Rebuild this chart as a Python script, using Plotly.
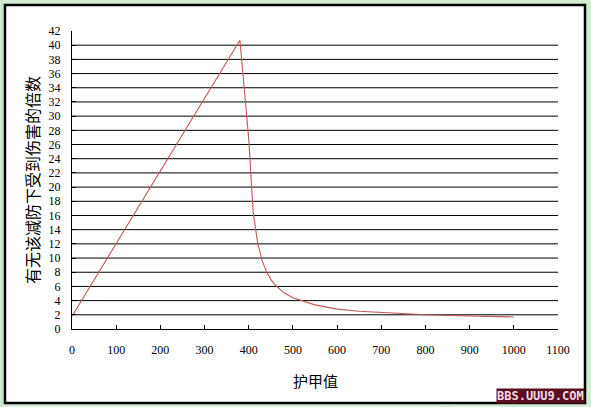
import plotly.graph_objects as go

# Data
armor = [0, 50, 100, 150, 200, 250, 300, 350, 380, 390, 400, 410, 420, 430, 440,
         450, 460, 480, 500, 550, 600, 650, 700, 750, 800, 850, 900, 950, 1000]
ratio = [1.8, 6.9, 12.0, 17.2, 22.3, 27.4, 32.5, 37.6, 40.7, 33.8, 26.8, 16.5, 12.2, 9.7, 8.1,
         7.0, 6.2, 5.1, 4.4, 3.4, 2.8, 2.5, 2.3, 2.1, 2.0, 1.9, 1.8, 1.75, 1.7]

x_ticks = [0, 100, 200, 300, 400, 500, 600, 700, 800, 900, 1000, 1100]
y_ticks = list(range(0, 43, 2))
x_title = "护甲值"
y_title = "有无该减防下受到伤害的倍数"
watermark = "BBS.UUU9.COM"

W, H = 591, 407
L, R, T, B = 72, 33, 31, 78
pw, ph = W - L - R, H - T - B

def px(xp):
    return (xp - L) / pw

def py(yp):
    return (H - B - yp) / ph

fig = go.Figure()
fig.add_trace(go.Scatter(x=armor, y=ratio, mode="lines",
                         line=dict(color="#c05858", width=1.1),
                         hoverinfo="skip", showlegend=False))

shapes = [
    dict(type="rect", xref="paper", yref="paper",
         x0=px(5), x1=px(585), y0=py(403), y1=py(5),
         fillcolor="white", line=dict(color="black", width=2.5), layer="below"),
]
for v in y_ticks[1:-1]:
    shapes.append(dict(type="line", xref="paper", yref="y", x0=0, x1=1, y0=v, y1=v,
                       line=dict(color="black", width=1), layer="below"))
# faint excel cell lines outside the frame
for xl in [2, 448, 513]:
    shapes.append(dict(type="line", xref="paper", yref="paper", x0=px(xl), x1=px(xl),
                       y0=py(407), y1=py(404) if xl != 2 else py(0),
                       line=dict(color="#b8dcb8", width=1), layer="below"))

fig.update_layout(
    width=W, height=H,
    margin=dict(l=L, r=R, t=T, b=B),
    paper_bgcolor="#d3ecd3",
    plot_bgcolor="rgba(0,0,0,0)",
    shapes=shapes,
    xaxis=dict(range=[0, 1100], tickvals=x_ticks, ticktext=[str(v) for v in x_ticks],
               showgrid=False, zeroline=False, showline=True, linecolor="black", linewidth=1,
               ticks="inside", ticklen=4, tickcolor="black",
               tickfont=dict(family="Liberation Serif", size=12, color="black"),
               ticklabelstandoff=10, fixedrange=True),
    yaxis=dict(range=[0, 42], tickvals=y_ticks, ticktext=[str(v) for v in y_ticks],
               showgrid=False, zeroline=False, showline=True, linecolor="black", linewidth=1,
               ticks="inside", ticklen=4, tickcolor="black",
               tickfont=dict(family="Liberation Serif", size=12, color="black"),
               ticklabelstandoff=8, fixedrange=True),
    annotations=[
        dict(text=y_title, xref="paper", yref="paper", x=px(32), y=0.5,
             textangle=-90, showarrow=False, xanchor="center", yanchor="middle",
             font=dict(family="Noto Sans CJK SC", size=16, color="black")),
        dict(text=x_title, xref="paper", yref="paper", x=0.5, y=py(380),
             showarrow=False, xanchor="center", yanchor="middle",
             font=dict(family="Noto Sans CJK SC", size=15, color="black")),
        dict(text="<b>" + watermark + "</b>", xref="paper", yref="paper",
             x=px(585), y=py(396), showarrow=False, xanchor="right", yanchor="middle",
             bgcolor="#5a0f1e", borderpad=0,
             font=dict(family="DejaVu Sans Mono", size=12, color="#f4dce8")),
    ],
)

fig.write_html("out.html", config={"displayModeBar": False},
               post_script="document.body.style.margin='0';document.body.style.overflow='hidden';")
